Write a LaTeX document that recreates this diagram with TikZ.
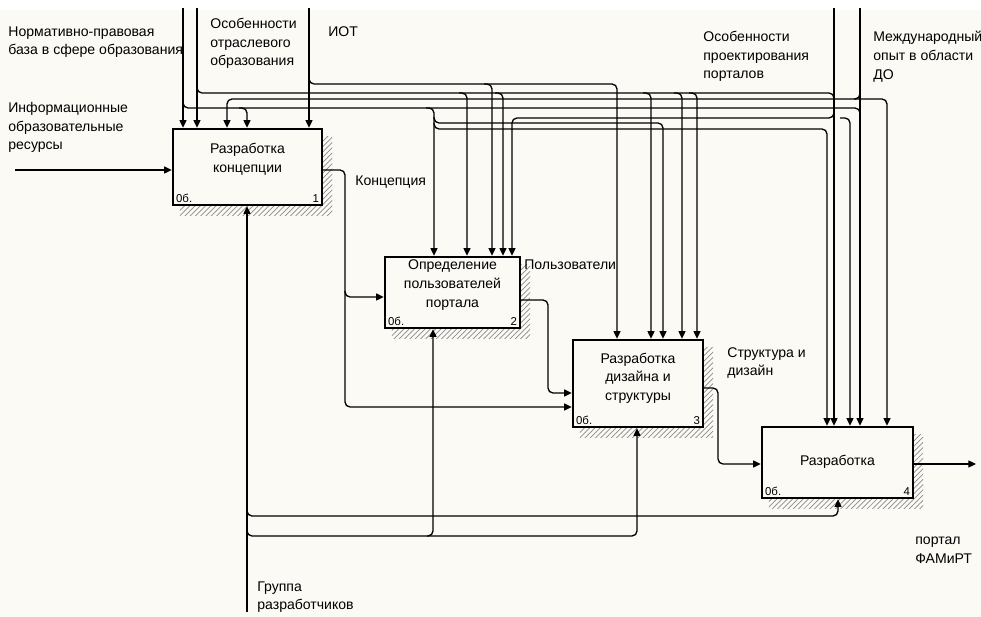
\documentclass[tikz,border=0pt]{standalone}
\usepackage{fontspec}
\setmainfont{Liberation Sans}
\usepackage{tikz}
\usetikzlibrary{arrows.meta,patterns,backgrounds}
\tikzset{>={Triangle[length=4.4pt,width=4pt]}}
\definecolor{paper}{RGB}{252,250,244}

\begin{document}
\begin{tikzpicture}[x=0.02cm, y=-0.02cm, font=\fontsize{8}{10.6}\selectfont,
		box/.style={draw, line width=1.4pt, fill=paper, inner sep=0pt},
		wire/.style={line width=0.75pt, rounded corners=0.1cm},
		tag/.style={anchor=north west, align=left, inner sep=0pt},
		num/.style={font=\fontsize{6.5}{7}\selectfont, inner sep=0pt}]
			\useasboundingbox (0,0) rectangle (981,617);
			\node (1) at (247.5,167) [box, minimum width=2.98cm, minimum height=1.52cm] {};
			\node (2) at (452.5,292.5) [box, minimum width=2.7cm, minimum height=1.42cm] {};
			\node (3) at (638,383.5) [box, minimum width=2.6cm, minimum height=1.74cm] {};
			\node (4) at (837.5,462.5) [box, minimum width=3.02cm, minimum height=1.42cm] {};
			\node (t1) at (247.5,159) [align=center] {Разработка\\концепции};
			\node (t2) at (452.5,285) [align=center] {Определение\\пользователей\\портала};
			\node (t3) at (638,378) [align=center] {Разработка\\дизайна и\\структуры};
			\node (t4) at (837.5,462) [align=center] {Разработка};
			\foreach \b in {1,2,3,4} {
				\node (\b o) at ([shift={(4,-3)}]\b.south west) [num, anchor=south west] {0б.};
				\node (\b n) at ([shift={(-4,-3)}]\b.south east) [num, anchor=south east] {\b};
			}
			\begin{scope}[on background layer]
				\fill[paper] (0,0) rectangle (981,617);
				\fill[white] (0,0) rectangle (981,10);
				\foreach \b in {1,2,3,4}
					\fill[pattern=north east lines, pattern color=gray!90] ([shift={(8,9)}]\b.south west) rectangle ([shift={(9,9)}]\b.north east);
			\end{scope}
			% labels
			\node (norm) at (8,26) [tag] {Нормативно-правовая\\база в сфере образования};
			\node (otr) at (210,18) [tag] {Особенности\\отраслевого\\образования};
			\node (iot) at (328,26) [tag] {ИОТ};
			\node (proj) at (703,31) [tag] {Особенности\\проектирования\\порталов};
			\node (mezh) at (873,31) [tag] {Международный\\опыт в области\\ДО};
			\node (inf) at (8,102) [tag] {Информационные\\образовательные\\ресурсы};
			\node (konc) at (355,175) [tag] {Концепция};
			\node (polz) at (524,259) [tag] {Пользователи};
			\node (strukt) at (727,347) [tag] {Структура и\\дизайн};
			\node (port) at (915,537) [tag] {портал\\ФАМиРТ};
			\node (grup) at (257,581) [tag] {Группа\\разработчиков};
			\coordinate (in) at (15,170);
			\coordinate (out) at (976,464);
			\coordinate (grp) at (247,612);
			\coordinate (s1) at (183,8);
			\coordinate (s2) at (197,8);
			\coordinate (s3) at (309,8);
			\coordinate (s4) at (834,8);
			\coordinate (s5) at (860,8);
			% inputs and outputs
			\draw[wire,->] (in) -- (in -| 1.west);
			\draw[wire,->] (4.east |- out) -- (out);
			\draw[wire,->] (1.east |- 0,170) -- (345,170) -- (345,297) -- (2.west |- 0,297);
			\draw[wire,->] (345,291) -- (345,407) -- (3.west |- 0,407);
			\draw[wire,->] (2.east |- 0,300) -- (548,300) -- (548,393) -- (3.west |- 0,393);
			\draw[wire,->] (3.east |- 0,388) -- (718,388) -- (718,464) -- (4.west |- 0,464);
			% mechanisms
			\draw[wire,->] (grp) -- (grp |- 1.south);
			\draw[wire,->] (247,510) -- (247,516) -- (838,516) -- (838,0 |- 4.south);
			\draw[wire,->] (247,530) -- (247,536) -- (433,536) -- (433,0 |- 2.south);
			\draw[wire,->] (427,536) -- (637,536) -- (637,0 |- 3.south);
			% controls
			\draw[wire,->] (s1) -- (s1 |- 1.north);
			\draw[wire,->] (s2) -- (s2 |- 1.north);
			\draw[wire,->] (s3) -- (s3 |- 1.north);
			\draw[wire,->] (s4) -- (s4 |- 4.north);
			\draw[wire,->] (s5) -- (s5 |- 4.north);
			\draw[wire,->] (309,78) -- (309,84) -- (617,84) -- (617,0 |- 3.north);
			\draw[wire,->] (484,84) -- (492,84) -- (492,0 |- 2.north);
			\draw[wire] (197,87) -- (197,93) -- (834,93) -- (834,99);
			\foreach \x in {467,503}
				\draw[wire,->] (\x-8,93) -- (\x,93) -- (\x,0 |- 2.north);
			\foreach \x in {651,682,697}
				\draw[wire,->] (\x-8,93) -- (\x,93) -- (\x,0 |- 3.north);
			\draw[wire,->] (860,93) -- (860,99) -- (227,99) -- (227,0 |- 1.north);
			\draw[wire,->] (854,99) -- (887,99) -- (887,0 |- 4.north);
			\draw[wire] (183,102) -- (183,108) -- (860,108) -- (860,114);
			\draw[wire,->] (239,108) -- (247,108) -- (247,0 |- 1.north);
			\draw[wire,->] (426,108) -- (434,108) -- (434,0 |- 2.north);
			\draw[wire,->] (834,112) -- (834,118) -- (512,118) -- (512,0 |- 2.north);
			\draw[wire,->] (840,118) -- (850,118) -- (850,0 |- 4.north);
			\draw[wire,->] (434,117) -- (434,123) -- (663,123) -- (663,0 |- 3.north);
			\draw[wire,->] (434,123) -- (434,129) -- (827,129) -- (827,0 |- 4.north);
		\end{tikzpicture}
\end{document}
